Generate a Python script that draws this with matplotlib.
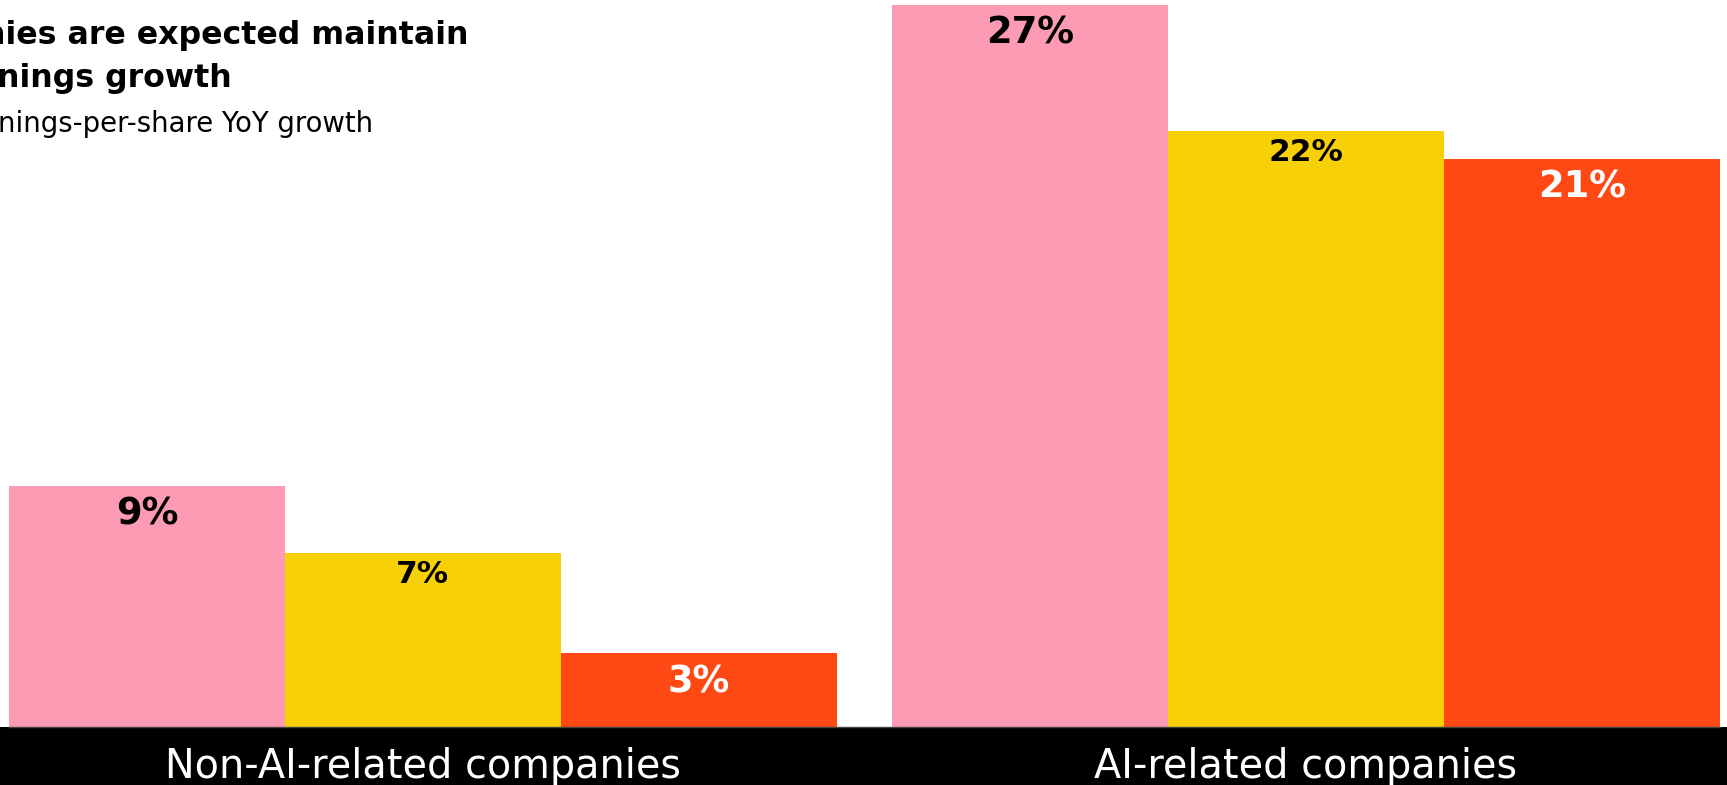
import matplotlib
matplotlib.use("Agg")
import matplotlib.pyplot as plt
import numpy as np
from matplotlib.patches import Rectangle

# ---- data ----
categories = ["Non-AI-related companies", "AI-related companies"]
series_values = [
    [9.0, 26.95],   # series 1 (pink)
    [6.5, 22.25],   # series 2 (yellow)
    [2.75, 21.2],   # series 3 (red)
]
value_labels = [
    ["9%", "27%"],
    ["7%", "22%"],
    ["3%", "21%"],
]
series_colors = ["#FD9BB4", "#F7D006", "#FF4914"]
label_colors = ["black", "black", "white"]
label_sizes = [26.5, 22.5, 26.5]
label_offsets = [-28, -21.5, -28]   # points below bar top (baseline)

title_lines = ["nies are expected maintain", "nings growth"]
subtitle = "nings-per-share YoY growth"

W, H = 1727, 785
fig = plt.figure(figsize=(W / 100, H / 100), dpi=100)
fig.patch.set_facecolor("white")

base_px = 727
ax = fig.add_axes([8.8 / W, (H - base_px) / H, (1720 - 8.8) / W, base_px / H])
ax.set_facecolor("none")

w = 0.3126
x = np.arange(len(categories))
for i, (vals, col) in enumerate(zip(series_values, series_colors)):
    pos = x + (i - 1) * w
    bars = ax.bar(pos, vals, width=w, color=col, linewidth=0, zorder=2)
    for xp, v, lab in zip(pos, vals, value_labels[i]):
        ax.annotate(lab, (xp, v), xytext=(0, label_offsets[i]), textcoords="offset points",
                    ha="center", va="baseline", fontsize=label_sizes[i],
                    fontweight="bold", color=label_colors[i], family="DejaVu Sans", zorder=3)

ax.set_xlim(-1.5 * w, 1 + 1.5 * w)
ax.set_ylim(0, base_px / 26.8)
ax.set_yticks([])
for s in ["top", "left", "right"]:
    ax.spines[s].set_visible(False)
ax.spines["bottom"].set_color("#444444")
ax.spines["bottom"].set_linewidth(1.0)
ax.set_xticks(x)
ax.set_xticklabels(categories, color="white", fontsize=28.6, family="DejaVu Sans")
ax.tick_params(axis="x", length=0, pad=14.5)

# black band at the bottom
fig.patches.append(Rectangle((0, 0), 1, (H - base_px) / H, transform=fig.transFigure,
                             facecolor="black", edgecolor="none", zorder=-1))

# title (cropped at left edge)
fig.text(-17 / W, 1 - 44 / H, title_lines[0], fontsize=22.8, fontweight="bold",
         va="baseline", ha="left", color="black", family="DejaVu Sans")
fig.text(-3 / W, 1 - 87 / H, title_lines[1], fontsize=22.8, fontweight="bold",
         va="baseline", ha="left", color="black", family="DejaVu Sans")
fig.text(-2 / W, 1 - 132 / H, subtitle, fontsize=19.8,
         va="baseline", ha="left", color="black", family="DejaVu Sans")

fig.savefig("out.png", dpi=100)
